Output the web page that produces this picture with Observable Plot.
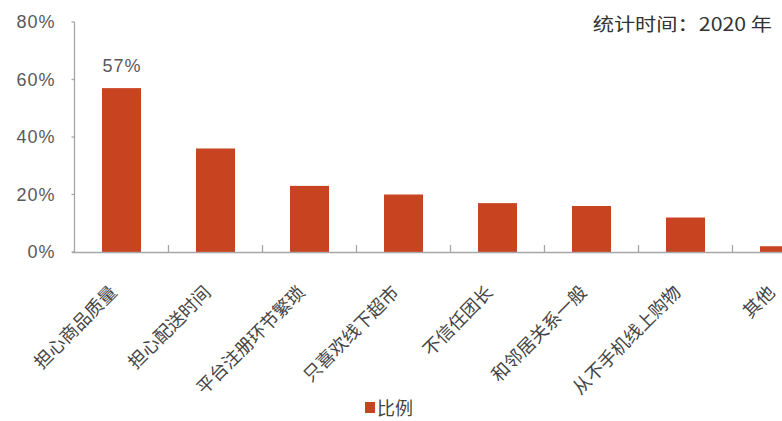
<!DOCTYPE html>
<html>
<head>
<meta charset="utf-8">
<script src="https://cdn.jsdelivr.net/npm/d3@7"></script>
<script src="https://cdn.jsdelivr.net/npm/@observablehq/plot@0.6"></script>
<style>
  html, body { margin: 0; padding: 0; background: #fff; overflow: hidden; width: 782px; height: 421px; }
  #wrap { position: relative; width: 782px; height: 421px; }
  #title { position: absolute; top: 10px; right: 10px; font-family: "Noto Sans CJK SC", sans-serif; font-size: 18px; color: #333; transform: scaleX(1.18); transform-origin: right center; white-space: nowrap; }
  #legend { position: absolute; left: 365px; top: 394px; font-family: "Noto Sans CJK SC", sans-serif; font-size: 18px; color: #444; display: flex; align-items: center; white-space: nowrap; }
  #legend .sw { width: 10px; height: 11px; background: #C8431F; margin-right: 2px; }
  g[aria-label="y-axis tick label"] text, g[aria-label="text"] text { letter-spacing: 1px; }
</style>
</head>
<body>
<div id="wrap">
  <div id="chart"></div>
  <div id="title">统计时间：2020 年</div>
  <div id="legend"><span class="sw"></span><span>比例</span></div>
</div>
<script>
const categories = ["担心商品质量", "担心配送时间", "平台注册环节繁琐", "只喜欢线下超市", "不信任团长", "和邻居关系一般", "从不手机线上购物", "其他"];
const values = [57, 36, 23, 20, 17, 16, 12, 2];
const yTicks = [0, 20, 40, 60, 80];
const labeled = ["担心商品质量"];
const seriesName = "比例";
const barColor = "#C8431F";

const data = categories.map((c, i) => ({cat: c, value: values[i]}));

function axisLines(index, scales) {
  const g = d3.create("svg:g").attr("stroke", "#a6a6a6").attr("stroke-width", 1.3).attr("fill", "none");
  const xs = categories.map(c => scales.x(c));
  const bwRaw = scales.x.bandwidth;
  const bw = typeof bwRaw === "function" ? bwRaw() : (typeof bwRaw === "number" ? bwRaw : 0);
  const step = xs[1] - xs[0];
  const left = xs[0] + bw / 2 - step / 2;
  const y0 = scales.y(0);
  const yTop = scales.y(yTicks[yTicks.length - 1]);
  g.append("line").attr("x1", left).attr("x2", left).attr("y1", yTop).attr("y2", y0);
  for (const t of yTicks) {
    g.append("line").attr("x1", left - 3).attr("x2", left).attr("y1", scales.y(t)).attr("y2", scales.y(t));
  }
  for (let i = 1; i <= categories.length; i++) {
    const xb = left + i * step;
    g.append("line").attr("x1", xb).attr("x2", xb).attr("y1", y0 - 7).attr("y2", y0);
  }
  return g.node();
}

const chart = Plot.plot({
  width: 782,
  height: 421,
  marginLeft: 72,
  marginRight: 0,
  marginTop: 22,
  marginBottom: 169,
  style: {fontFamily: "'Noto Sans CJK SC', sans-serif", background: "transparent", overflow: "hidden"},
  x: {domain: categories, range: [71.5, 830], paddingInner: 0.59, paddingOuter: 0.295},
  y: {domain: [0, 80]},
  marks: [
    Plot.barY(data, {x: "cat", y: "value", fill: barColor}),
    Plot.ruleY([0], {stroke: "#a6a6a6", strokeWidth: 1.3}),
    axisLines,
    Plot.text(data.filter(d => labeled.includes(d.cat)), {x: "cat", y: "value", text: d => d.value + "%", dy: -22, fontSize: 18, fill: "#595959", fontFamily: "'Liberation Sans', Arial, sans-serif"}),
    Plot.axisY({ticks: yTicks, tickFormat: d => d + "%", tickSize: 0, tickPadding: 17, fontSize: 18, color: "#595959", fontFamily: "'Liberation Sans', Arial, sans-serif", label: null}),
    Plot.axisX({tickRotate: -45, tickSize: 0, tickPadding: 37, dx: -8, fontSize: 18, color: "#444", label: null})
  ]
});
document.getElementById("chart").appendChild(chart);
</script>
</body>
</html>
